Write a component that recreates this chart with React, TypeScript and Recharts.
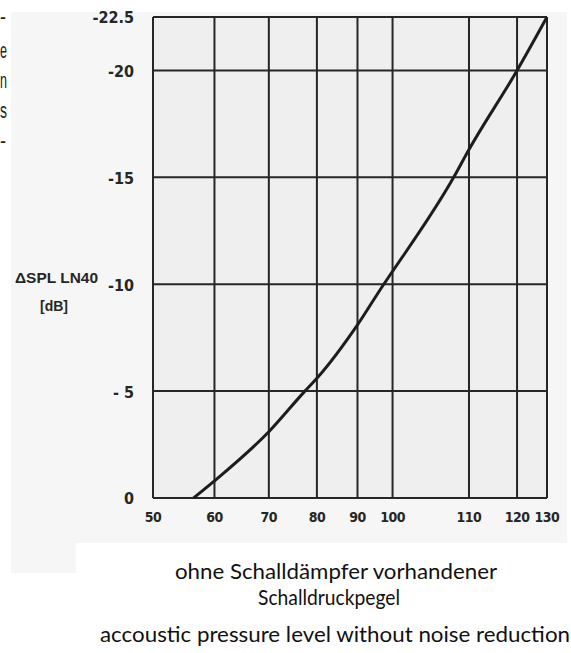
import React from 'react';
import { LineChart, Line, XAxis, YAxis, CartesianGrid } from 'recharts';

// printed x-axis labels and where each grid line sits on the (unevenly spaced) printed grid, 0..100
const xTicks = [50, 60, 70, 80, 90, 100, 110, 120, 130];
const xGridUnits = [0, 15.6, 29.4, 41.6, 51.9, 60.8, 80.2, 92.4, 100];

const yTicks = [-22.5, -20, -15, -10, -5, 0];
const yTickLabels = ['-22.5', '-20', '-15', '-10', '- 5', '0'];

// curve: level without silencer [dB] -> ΔSPL LN40 [dB]
const splLevels = [56.6, 60, 70, 77.5, 80, 90, 97.5, 100, 108, 110, 120, 130];
const deltaSpl = [0, -0.8, -3.1, -5, -5.6, -8.1, -10, -10.6, -15, -16.3, -20, -22.5];

const toGrid = (db: number) => {
  for (let i = 0; i < xTicks.length - 1; i++) {
    if (db <= xTicks[i + 1]) {
      const t = (db - xTicks[i]) / (xTicks[i + 1] - xTicks[i]);
      return xGridUnits[i] + t * (xGridUnits[i + 1] - xGridUnits[i]);
    }
  }
  return xGridUnits[xGridUnits.length - 1];
};

const data = splLevels.map((db, i) => ({ x: toGrid(db), y: deltaSpl[i] }));

const narrow = '"Liberation Sans Narrow", "DejaVu Sans Condensed", "Liberation Sans", sans-serif';
const ink = '#262725';

const XTick = (props: any) => {
  const { x, y, index } = props;
  return (
    <text x={x} y={y} dy="0.71em" textAnchor="middle" fill={ink}
      fontFamily={narrow} fontWeight="bold" fontSize={14} letterSpacing={-0.5}>
      {xTicks[index]}
    </text>
  );
};

const YTick = (props: any) => {
  const { x, y, index } = props;
  return (
    <text x={x} y={y} dy="0.4em" textAnchor="end" fill={ink}
      fontFamily={narrow} fontWeight="bold" fontSize={16}>
      {yTickLabels[index]}
    </text>
  );
};

const sideText = ['e', 'n', 's'];

export default function App() {
  return (
    <div style={{ position: 'relative', width: 571, height: 653, background: '#fff', overflow: 'hidden' }}>
      <style>{'body{margin:0;background:#fff}'}</style>
      <div style={{ position: 'absolute', left: 11, top: 12, width: 556, height: 531, background: '#f6f6f6' }} />
      <div style={{ position: 'absolute', left: 11, top: 543, width: 65, height: 30, background: '#f6f6f6' }} />
      <div style={{ position: 'absolute', left: 0, top: 0 }}>
        <LineChart width={571} height={653} data={data}
          margin={{ top: 17, right: 24, bottom: 125, left: 0 }}>
          <CartesianGrid stroke={ink} strokeWidth={2} fill="#efefef" fillOpacity={1} />
          <XAxis dataKey="x" type="number" domain={[0, 100]} ticks={xGridUnits}
            height={30} axisLine={false} tickLine={false} tickSize={0} tickMargin={14}
            tick={<XTick />} interval={0} />
          <YAxis type="number" domain={[-22.5, 0]} ticks={yTicks} reversed
            width={153} axisLine={false} tickLine={false} tickSize={0} tickMargin={19}
            tick={<YTick />} interval={0} />
          <Line dataKey="y" type="monotone" stroke="#1d1d1d" strokeWidth={3}
            dot={false} isAnimationActive={false} />
        </LineChart>
      </div>
      <svg width={571} height={653} style={{ position: 'absolute', left: 0, top: 0, pointerEvents: 'none' }}>
        <g fontFamily='"Liberation Sans", Arial, sans-serif' fontSize={22} fill="#222">
          <text x={0} y={24} textLength={6} lengthAdjust="spacingAndGlyphs">-</text>
          {sideText.map((s, i) => (
            <text key={s} x={0} y={58 + i * 30} textLength={7} lengthAdjust="spacingAndGlyphs">{s}</text>
          ))}
          <text x={0} y={148} textLength={6} lengthAdjust="spacingAndGlyphs">-</text>
        </g>
        <g fontFamily='"Liberation Sans", Arial, sans-serif' fontWeight="bold" fill={ink}>
          <text x={15} y={283} fontSize={15} textLength={83} lengthAdjust="spacingAndGlyphs">ΔSPL LN40</text>
          <text x={40} y={311} fontSize={15} textLength={28} lengthAdjust="spacingAndGlyphs">[dB]</text>
        </g>
        <g fontFamily='Lato, "Open Sans", sans-serif' fontSize={21} fill="#111" textAnchor="middle">
          <text x={336} y={579} textLength={322} lengthAdjust="spacingAndGlyphs">ohne Schalldämpfer vorhandener</text>
          <text x={329} y={605} textLength={142} lengthAdjust="spacingAndGlyphs">Schalldruckpegel</text>
          <text x={335} y={642} textLength={470} lengthAdjust="spacingAndGlyphs">accoustic pressure level without noise reduction</text>
        </g>
      </svg>
    </div>
  );
}
